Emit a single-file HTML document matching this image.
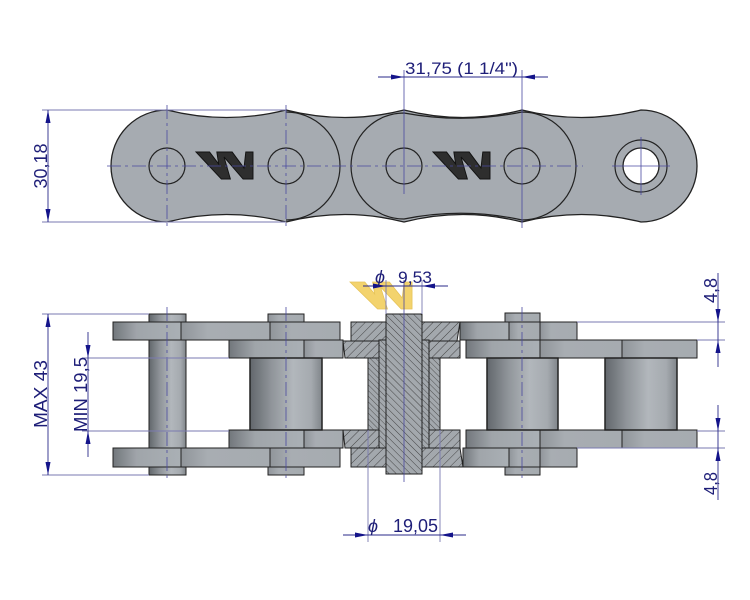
<!DOCTYPE html>
<html><head><meta charset="utf-8"><style>
html,body{margin:0;padding:0;background:#fff;}
svg{display:block;}
text{font-family:"Liberation Sans","DejaVu Sans",sans-serif;fill:#1e1e78;}
</style></head><body>
<svg width="750" height="600" viewBox="0 0 750 600" xmlns="http://www.w3.org/2000/svg">
<defs>
<linearGradient id="pg" x1="0" y1="0" x2="1" y2="0">
<stop offset="0" stop-color="#72777c"/><stop offset="0.35" stop-color="#a0a5aa"/><stop offset="1" stop-color="#aab0b5"/>
</linearGradient>
<linearGradient id="pg2" x1="0" y1="0" x2="1" y2="0">
<stop offset="0" stop-color="#90959a"/><stop offset="0.3" stop-color="#a8adb2"/><stop offset="1" stop-color="#a6abb0"/>
</linearGradient>
<linearGradient id="rg" x1="0" y1="0" x2="1" y2="0">
<stop offset="0" stop-color="#62676c"/><stop offset="0.3" stop-color="#90959a"/><stop offset="0.6" stop-color="#b2b7bc"/><stop offset="0.85" stop-color="#a5aaaf"/><stop offset="1" stop-color="#80858a"/>
</linearGradient>
<pattern id="hP" patternUnits="userSpaceOnUse" width="6" height="6" patternTransform="rotate(45)">
<rect width="6" height="6" fill="#a3a8ad"/><line x1="0" y1="0" x2="0" y2="6" stroke="#3a3a3a" stroke-width="0.9"/>
</pattern>
<pattern id="hN" patternUnits="userSpaceOnUse" width="5" height="5" patternTransform="rotate(-45)">
<rect width="5" height="5" fill="#a3a8ad"/><line x1="0" y1="0" x2="0" y2="5" stroke="#3a3a3a" stroke-width="0.9"/>
</pattern>
<pattern id="hF" patternUnits="userSpaceOnUse" width="4" height="4" patternTransform="rotate(-45)">
<rect width="4" height="4" fill="#a3a8ad"/><line x1="0" y1="0" x2="0" y2="4" stroke="#3a3a3a" stroke-width="0.8"/>
</pattern>
</defs>

<!-- ============ TOP VIEW ============ -->
<path d="M167,110 Q226.5,125 286,110 Q345,125 404,110 Q463,125 522,110 Q581.5,125 641,110 A56,56 0 0 1 641,222 Q581.5,207 522,222 Q463,207 404,222 Q345,207 286,222 Q226.5,207 167,222 A56,56 0 0 1 167,110 Z" fill="#a6abb1" stroke="#222" stroke-width="1.3"/>
<path d="M286,112 A54,54 0 0 1 286,220" fill="none" stroke="#222" stroke-width="1.2"/>
<path d="M404,113 A53,53 0 0 0 404,219 Q463,207 522,220 A54,54 0 0 0 522,112 Q463,124 404,113 Z" fill="none" stroke="#222" stroke-width="1.2"/>
<g fill="none" stroke="#222" stroke-width="1.2">
<circle cx="167" cy="166" r="18"/><circle cx="286" cy="166" r="18"/>
<circle cx="404" cy="166" r="18"/><circle cx="522" cy="166" r="18"/>
<circle cx="641" cy="166" r="26"/>
</g>
<circle cx="641" cy="166" r="18" fill="#fff" stroke="#222" stroke-width="1.3"/>

<!-- W logos -->
<g transform="translate(196,152) scale(0.905,1)">
<polygon points="0,0 15,0 25,12 23,0 40,0 53,16 55,0 63,0 63,27 52,27 31,5 38,27 28,27" fill="#2e2e2e" stroke="#111" stroke-width="1"/>
</g>
<g transform="translate(433,152) scale(0.905,1)">
<polygon points="0,0 15,0 25,12 23,0 40,0 53,16 55,0 63,0 63,27 52,27 31,5 38,27 28,27" fill="#2e2e2e" stroke="#111" stroke-width="1"/>
</g>

<!-- centerlines top view -->
<g stroke="#4a4aa0" stroke-width="0.8" fill="none">
<line x1="107" y1="166" x2="583" y2="166" stroke-dasharray="14,4,3,4"/>
<line x1="167" y1="105" x2="167" y2="228" stroke-dasharray="14,4,3,4"/>
<line x1="286" y1="105" x2="286" y2="228" stroke-dasharray="14,4,3,4"/>
<line x1="404" y1="70" x2="404" y2="194"/>
<line x1="522" y1="70" x2="522" y2="228"/>
<line x1="612" y1="166" x2="670" y2="166"/>
<line x1="641" y1="137" x2="641" y2="195"/>
</g>
<!-- dims top -->
<g stroke="#7a7ab0" stroke-width="0.9">
<line x1="42" y1="110" x2="286" y2="110"/>
<line x1="42" y1="222" x2="286" y2="222"/>
</g>
<g stroke="#2a2a8a" stroke-width="0.9">
<line x1="48" y1="110" x2="48" y2="222"/>
<line x1="378" y1="77" x2="548" y2="77"/>
</g>
<g fill="#14148a">
<polygon points="48,110 45.5,123 50.5,123"/>
<polygon points="48,222 45.5,209 50.5,209"/>
<polygon points="404,77 391,74.5 391,79.5"/>
<polygon points="522,77 535,74.5 535,79.5"/>
</g>
<text x="47" y="166" font-size="18" text-anchor="middle" textLength="45" lengthAdjust="spacingAndGlyphs" transform="rotate(-90 47 166)">30,18</text>
<text x="405" y="74" font-size="17" textLength="113" lengthAdjust="spacingAndGlyphs">31,75  (1 1/4")</text>

<!-- ============ BOTTOM VIEW ============ -->
<!-- pin 167 -->
<rect x="149" y="314" width="37" height="161" fill="url(#rg)" stroke="#222" stroke-width="1"/>
<!-- pin heads 286 -->
<rect x="268" y="314" width="36" height="9" fill="url(#pg2)" stroke="#222" stroke-width="1"/>
<rect x="268" y="466" width="36" height="9" fill="url(#pg2)" stroke="#222" stroke-width="1"/>
<!-- left outer plates -->
<g stroke="#222" stroke-width="1">
<rect x="113" y="322" width="68" height="18" fill="url(#pg)"/>
<rect x="181" y="322" width="89" height="18" fill="url(#pg2)"/>
<rect x="270" y="322" width="70" height="18" fill="url(#pg2)"/>
<rect x="113" y="448" width="68" height="19" fill="url(#pg)"/>
<rect x="181" y="448" width="89" height="19" fill="url(#pg2)"/>
<rect x="270" y="448" width="70" height="19" fill="url(#pg2)"/>
<!-- left inner plates -->
<rect x="229" y="340" width="75" height="18" fill="url(#pg)"/>
<rect x="304" y="340" width="39" height="18" fill="url(#pg2)"/>
<rect x="229" y="430" width="75" height="18" fill="url(#pg)"/>
<rect x="304" y="430" width="39" height="18" fill="url(#pg2)"/>
<!-- roller 286 -->
<rect x="250" y="358" width="72" height="72" fill="url(#rg)" stroke-width="1.5"/>
</g>
<!-- right link -->
<g stroke="#222" stroke-width="1">
<rect x="505" y="313" width="35" height="9" fill="url(#pg2)"/>
<rect x="505" y="467" width="35" height="8" fill="url(#pg2)"/>
<rect x="460" y="322" width="49" height="18" fill="url(#pg)"/>
<rect x="509" y="322" width="31" height="18" fill="url(#pg2)"/>
<rect x="540" y="322" width="37" height="18" fill="url(#pg2)"/>
<rect x="463" y="448" width="46" height="19" fill="url(#pg)"/>
<rect x="509" y="448" width="31" height="19" fill="url(#pg2)"/>
<rect x="540" y="448" width="37" height="19" fill="url(#pg2)"/>
<rect x="466" y="340" width="74" height="18" fill="url(#pg)"/>
<rect x="540" y="340" width="82" height="18" fill="url(#pg2)"/>
<rect x="622" y="340" width="75" height="18" fill="url(#pg2)"/>
<rect x="466" y="430" width="74" height="18" fill="url(#pg)"/>
<rect x="540" y="430" width="82" height="18" fill="url(#pg2)"/>
<rect x="622" y="430" width="75" height="18" fill="url(#pg2)"/>
<rect x="487" y="358" width="71" height="72" fill="url(#rg)" stroke-width="1.5"/>
<rect x="605" y="358" width="72" height="72" fill="url(#rg)" stroke-width="1.5"/>
</g>

<!-- section -->
<g stroke="#222" stroke-width="1">
<polygon points="351,322 460,322 457,341 351,341" fill="url(#hP)"/>
<polygon points="343,341 460,341 460,358 345,358" fill="url(#hP)"/>
<polygon points="343,430 460,430 460,448 345,448" fill="url(#hP)"/>
<polygon points="351,448 460,448 463,467 351,467" fill="url(#hP)"/>
<rect x="368" y="358" width="11" height="72" fill="url(#hF)"/>
<rect x="429" y="358" width="11" height="72" fill="url(#hF)"/>
<rect x="379" y="340" width="7" height="108" fill="url(#hF)"/>
<rect x="422" y="340" width="7" height="108" fill="url(#hF)"/>
<rect x="386" y="314" width="36" height="160" fill="url(#hN)"/>
</g>

<!-- yellow W -->
<g transform="translate(350,282) scale(0.985,1)" opacity="0.9">
<polygon points="0,0 15,0 25,12 23,0 40,0 53,16 55,0 63,0 63,27 52,27 31,5 38,27 28,27" fill="#f2cf5e" stroke="#e4bd48" stroke-width="0.8"/>
</g>

<!-- centerlines bottom -->
<g stroke="#4a4aa0" stroke-width="0.8" fill="none">
<line x1="167" y1="307" x2="167" y2="482" stroke-dasharray="14,4,3,4"/>
<line x1="286" y1="307" x2="286" y2="482" stroke-dasharray="14,4,3,4"/>
<line x1="404" y1="280" x2="404" y2="482"/>
<line x1="522" y1="307" x2="522" y2="480" stroke-dasharray="14,4,3,4"/>
</g>
<!-- extension lines bottom -->
<g stroke="#7a7ab0" stroke-width="0.9">
<line x1="42" y1="314" x2="149" y2="314"/>
<line x1="42" y1="475" x2="149" y2="475"/>
<line x1="82" y1="358" x2="229" y2="358"/>
<line x1="82" y1="431" x2="229" y2="431"/>
<line x1="386" y1="280" x2="386" y2="314"/>
<line x1="422" y1="280" x2="422" y2="314"/>
<line x1="368" y1="430" x2="368" y2="542"/>
<line x1="440" y1="430" x2="440" y2="542"/>
<line x1="577" y1="322" x2="725" y2="322"/>
<line x1="697" y1="340" x2="725" y2="340"/>
<line x1="697" y1="431" x2="725" y2="431"/>
<line x1="577" y1="448" x2="725" y2="448"/>
</g>
<g stroke="#2a2a8a" stroke-width="0.9">
<line x1="48" y1="314" x2="48" y2="475"/>
<line x1="88" y1="332" x2="88" y2="457"/>
<line x1="363" y1="286" x2="448" y2="286"/>
<line x1="343" y1="535" x2="466" y2="535"/>
<line x1="718" y1="273" x2="718" y2="367"/>
<line x1="718" y1="405" x2="718" y2="500"/>
</g>
<g fill="#14148a">
<polygon points="48,314 45.5,327 50.5,327"/>
<polygon points="48,475 45.5,462 50.5,462"/>
<polygon points="88,358 85.5,345 90.5,345"/>
<polygon points="88,431 85.5,444 90.5,444"/>
<polygon points="386,286 373,283.5 373,288.5"/>
<polygon points="422,286 435,283.5 435,288.5"/>
<polygon points="368,535 355,532.5 355,537.5"/>
<polygon points="440,535 453,532.5 453,537.5"/>
<polygon points="718,322 715.5,309 720.5,309"/>
<polygon points="718,340 715.5,353 720.5,353"/>
<polygon points="718,431 715.5,418 720.5,418"/>
<polygon points="718,448 715.5,461 720.5,461"/>
</g>
<text x="47" y="394" font-size="18" text-anchor="middle" textLength="68" lengthAdjust="spacingAndGlyphs" transform="rotate(-90 47 394)">MAX  43</text>
<text x="87" y="394.5" font-size="18" text-anchor="middle" textLength="75" lengthAdjust="spacingAndGlyphs" transform="rotate(-90 87 394.5)">MIN  19,5</text>
<text x="717" y="290.5" font-size="18" text-anchor="middle" textLength="25" lengthAdjust="spacingAndGlyphs" transform="rotate(-90 717 290.5)">4,8</text>
<text x="717" y="483.5" font-size="18" text-anchor="middle" textLength="23" lengthAdjust="spacingAndGlyphs" transform="rotate(-90 717 483.5)">4,8</text>
<text x="375" y="283" font-size="18" font-style="italic">ϕ</text>
<text x="398" y="283" font-size="17" textLength="34" lengthAdjust="spacingAndGlyphs">9,53</text>
<text x="368" y="532" font-size="18" font-style="italic">ϕ</text>
<text x="393" y="532" font-size="18" textLength="45" lengthAdjust="spacingAndGlyphs">19,05</text>
</svg>
</body></html>
